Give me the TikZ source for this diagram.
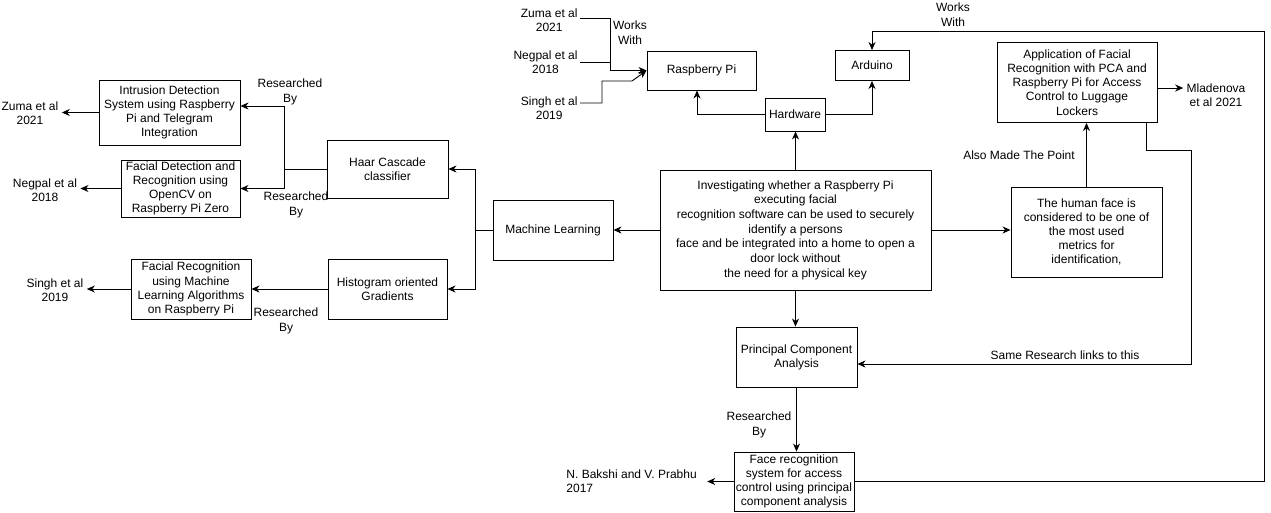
\documentclass[tikz,border=0pt]{standalone}
\usepackage{fontspec}
\setmainfont{Liberation Sans}
\usetikzlibrary{arrows.meta}
\tikzstyle{box} = [draw, align=center, inner sep=1pt, font=\fontsize{12}{14.2}\selectfont]
\tikzstyle{ref} = [align=center, inner sep=3pt, font=\fontsize{12}{14.2}\selectfont]
\tikzstyle{note} = [align=center, inner sep=0pt, font=\fontsize{12}{14.8}\selectfont]

\begin{document}
\begin{tikzpicture}[x=1pt, y=-1pt, line width=0.9pt, >={Stealth[length=8pt,width=7pt,inset=2.5pt]}]
    \useasboundingbox (0,0) rectangle (1271,512);
    % left side: papers
    \draw (169.5,112.5) node[box, minimum width=141pt, minimum height=65pt] (intrusion) {Intrusion Detection\\System using Raspberry\\Pi and Telegram\\Integration};
    \draw (180.5,188.5) node[box, minimum width=119pt, minimum height=57pt] (facedet) {Facial Detection and\\Recognition using\\OpenCV on\\Raspberry Pi Zero};
    \draw (191,289) node[box, minimum width=120pt, minimum height=60pt] (faceml) {Facial Recognition\\using Machine\\Learning Algorithms\\on Raspberry Pi};
    \draw (30,113) node[ref] (zumaL) {Zuma et al\\2021};
    \draw (45,190) node[ref] (negpalL) {Negpal et al\\2018};
    \draw (55,290) node[ref] (singhL) {Singh et al\\2019};
    \draw (387.5,169) node[box, minimum width=121pt, minimum height=58pt] (haar) {Haar Cascade\\classifier};
    \draw (387.5,289) node[box, minimum width=119pt, minimum height=60pt] (hog) {Histogram oriented\\Gradients};
    \draw (553,230) node[box, minimum width=120pt, minimum height=60pt] (ml) {Machine Learning};
    % centre
    \draw (795.5,230) node[box, minimum width=271pt, minimum height=120pt, font=\fontsize{12}{14.7}\selectfont] (main) {Investigating whether a Raspberry Pi\\executing facial\\recognition software can be used to securely\\identify a persons\\face and be integrated into a home to open a\\door lock without\\the need for a physical key};
    \draw (795,114.5) node[box, minimum width=60pt, minimum height=33pt] (hardware) {Hardware};
    \draw (701.5,70.5) node[box, minimum width=109pt, minimum height=39pt] (rpi) {Raspberry Pi};
    \draw (872,65.5) node[box, minimum width=74pt, minimum height=30pt] (arduino) {Arduino};
    \draw (580,20) node[ref, anchor=east, inner sep=2pt] (zumaT) {Zuma et al\\2021};
    \draw (580,62) node[ref, anchor=east, inner sep=2pt] (negpalT) {Negpal et al\\2018};
    \draw (580,108.5) node[ref, anchor=east, inner sep=2pt] (singhT) {Singh et al\\2019};
    \draw (796.5,357) node[box, minimum width=121pt, minimum height=60pt] (pca) {Principal Component\\Analysis};
    \draw (794,481.5) node[box, minimum width=120pt, minimum height=59pt] (facepca) {Face recognition\\system for access\\control using principal\\component analysis};
    \draw (564,481.5) node[ref, anchor=west, align=left, inner sep=2pt] (bakshi) {N. Bakshi and V. Prabhu\\2017};
    % right side
    \draw (1086.5,232) node[box, minimum width=151pt, minimum height=90pt] (humanface) {The human face is\\considered to be one of\\the most used\\metrics for\\identification,};
    \draw (1077,82.5) node[box, minimum width=160pt, minimum height=80pt] (luggage) {Application of Facial\\Recognition with PCA and\\Raspberry Pi for Access\\Control to Luggage\\Lockers};
    \draw (1216,95) node[ref] (mladenova) {Mladenova\\et al 2021};

    \coordinate (mlsplit) at (475,230);
    \coordinate (haarsplit) at (284,169);
    \coordinate (wwjoin) at (610,70.5);
    \coordinate (singhbend) at (602,81);
    \coordinate (samebend) at (1191,150);
    \coordinate (loopse) at (1264,481.5);
    \coordinate (loopne) at (1264,31);

    \draw [->] (main.west) -- (ml.east);
    \draw (ml.west) -- (mlsplit);
    \draw [->] (mlsplit) |- (haar.east);
    \draw [->] (mlsplit) |- (hog.east);
    \draw (haar.west) -- (haarsplit);
    \draw [->] (haarsplit) |- ([yshift=6.5pt]intrusion.east);
    \draw [->] (haarsplit) |- (facedet.east);
    \draw [->] (hog.west) -- (faceml.east);
    \draw [->] (intrusion.west) -- (intrusion.west -| zumaL.east);
    \draw [->] (facedet.west) -- (facedet.west -| negpalL.east);
    \draw [->] (faceml.west) -- (faceml.west -| singhL.east);
    \node at (290,92) [note] {Researched\\By};
    \node at (296,205) [note] {Researched\\By};
    \node at (286,321) [note] {Researched\\By};

    \draw [->] (main.north) -- (main.north |- hardware.south);
    \draw [->] (hardware.west) -| ([xshift=-4.5pt]rpi.south);
    \draw [->] (hardware.east) -| (arduino.south);
    \draw ([yshift=2pt]zumaT.east) -| (wwjoin);
    \draw (negpalT.east) -- (negpalT.east -| wwjoin);
    \draw [->] (wwjoin) -- (wwjoin -| rpi.west);
    \draw [->] ([yshift=5.5pt]singhT.east) -| (singhbend) -- ++(30,0) -- (rpi.west);
    \node at (630,32.5) [note] {Works\\With};

    \draw [->] (main.east) -- (main.east -| humanface.west);
    \draw [->] (humanface.north) -- (humanface.north |- luggage.south);
    \node at (1019,155) [note] {Also Made The Point};
    \draw [->] ([yshift=-5.5pt]luggage.east) -- ([yshift=-5.5pt]luggage.east -| mladenova.west);
    \draw [->] ([xshift=-11pt]luggage.south east) |- (samebend) |- ([yshift=-7pt]pca.east);
    \node at (1065,355) [note] {Same Research links to this};

    \draw [->] (main.south) -- (main.south |- pca.north);
    \draw [->] (pca.south) -- (pca.south |- facepca.north);
    \node at (759,425) [note] {Researched\\By};
    \draw [->] (facepca.west) -- ([xshift=8pt]bakshi.east);
    \draw [->] (facepca.east) -- (loopse) -- (loopne) -| (arduino.north);
    \node at (953,14.5) [note] {Works\\With};
\end{tikzpicture}
\end{document}
